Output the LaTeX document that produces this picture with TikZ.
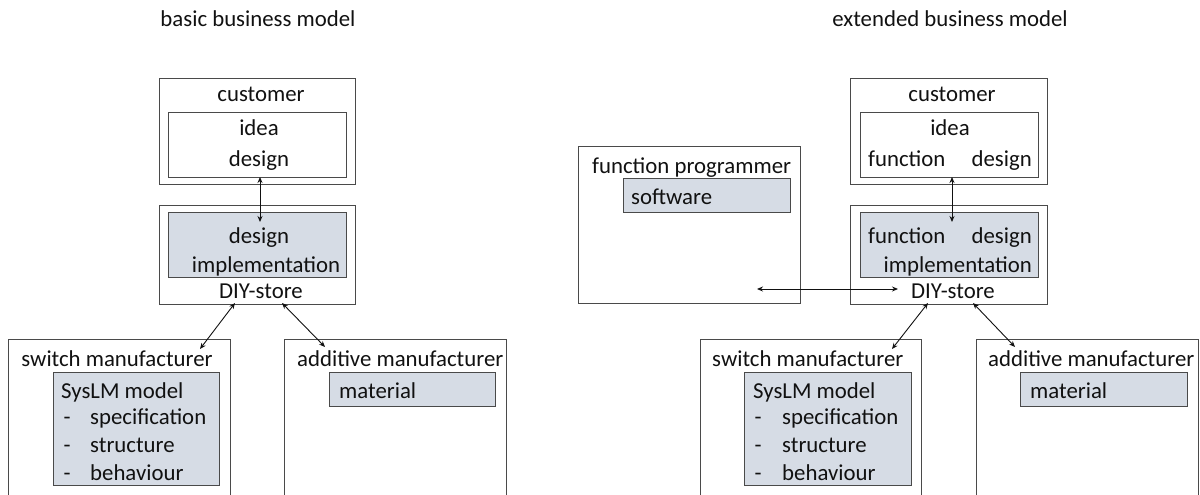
\documentclass[tikz,border=0pt]{standalone}
\usepackage{fontspec}
\setmainfont{Carlito}
\usetikzlibrary{arrows.meta}
\definecolor{ink}{HTML}{111111}
\definecolor{boxline}{HTML}{4A4A4A}
\definecolor{greyfill}{HTML}{D6DCE5}
\tikzset{
  every node/.style={font=\fontsize{22.8}{28}\selectfont, text=ink},
  box/.style={draw=boxline, line width=1.4pt, inner sep=0pt, anchor=north west},
  greybox/.style={box, fill=greyfill},
  txt/.style={anchor=base, inner sep=0pt},
  txtl/.style={anchor=base west, inner sep=0pt},
  txtr/.style={anchor=base east, inner sep=0pt},
  link/.style={{Stealth[length=6pt,width=5pt]}-{Stealth[length=6pt,width=5pt]}, line width=0.9pt, draw=ink}
}
\begin{document}
\begin{tikzpicture}[x=1pt,y=-1pt]
\useasboundingbox (0,0) rectangle (1200,495);

% ---------------- basic business model ----------------
\node[txt] (t1) at (258,27) {basic business model};

\node[box, minimum width=196pt, minimum height=106pt] (cust) at (159,78) {};
\node[box, minimum width=178pt, minimum height=65pt] (custin) at (168,112) {};
\node[txt] (custlbl) at (261,102) {customer};
\node[txt] (idea) at (259,135) {idea};
\node[txt] (cdesign) at (259,166) {design};

\node[box, minimum width=196pt, minimum height=99pt] (diy) at (159,205) {};
\node[greybox, minimum width=178pt, minimum height=65pt] (diyin) at (168,212) {};
\node[txt] (ddesign) at (259,243) {design};
\node[txt] (dimpl) at (266,272) {implementation};
\node[txt] (diylbl) at (261,298) {DIY-store};

\node[box, minimum width=222pt, minimum height=170pt] (sw) at (8,339) {};
\node[greybox, minimum width=166pt, minimum height=113pt] (swin) at (53,372) {};
\node[txt] (swlbl) at (117,366) {switch manufacturer};
\node[txtl] (sys) at (61,398) {SysLM model};
\node[txt] (da) at (67,424) {-};
\node[txtl] (spec) at (90,424) {specification};
\node[txt] (db) at (67,452) {-};
\node[txtl] (struc) at (90,452) {structure};
\node[txt] (dc) at (67,480) {-};
\node[txtl] (behav) at (90,480) {behaviour};

\node[box, minimum width=222pt, minimum height=170pt] (add) at (284,339) {};
\node[greybox, minimum width=166pt, minimum height=34pt] (addin) at (329,372) {};
\node[txtl] (addlbl) at (297,366) {additive manufacturer};
\node[txtl] (mat) at (339,398) {material};

\coordinate (a1top) at (260,177);
\coordinate (a1bot) at (260,222);
\coordinate (a2top) at (235,303);
\coordinate (a2bot) at (200,349);
\coordinate (a3top) at (282,303);
\coordinate (a3bot) at (325,347);
\draw[link] (a1top) -- (a1bot);
\draw[link] (a2top) -- (a2bot);
\draw[link] (a3top) -- (a3bot);

% ---------------- extended business model ----------------
\node[txt] (t2) at (950,27) {extended business model};

\node[box, minimum width=197pt, minimum height=106pt] (cust2) at (850,78) {};
\node[box, minimum width=178pt, minimum height=65pt] (custin2) at (860,112) {};
\node[txt] (custlbl2) at (952,102) {customer};
\node[txt] (idea2) at (950,135) {idea};
\node[txtl] (cfun2) at (868,166) {function};
\node[txtr] (cdesign2) at (1032,166) {design};

\node[box, minimum width=197pt, minimum height=99pt] (diy2) at (850,205) {};
\node[greybox, minimum width=178pt, minimum height=65pt] (diyin2) at (860,212) {};
\node[txtl] (dfun2) at (868,243) {function};
\node[txtr] (ddesign2) at (1032,243) {design};
\node[txtr] (dimpl2) at (1032,272) {implementation};
\node[txt] (diylbl2) at (953,298) {DIY-store};

\node[box, minimum width=222pt, minimum height=157pt] (fp) at (578,146) {};
\node[greybox, minimum width=167pt, minimum height=34pt] (fpin) at (623,178) {};
\node[txtl] (fplbl) at (592,173) {function programmer};
\node[txtl] (soft) at (631,204) {software};

\node[box, minimum width=221pt, minimum height=170pt] (sw2) at (700,339) {};
\node[greybox, minimum width=167pt, minimum height=113pt] (swin2) at (744,372) {};
\node[txtl] (swlbl2) at (712,366) {switch manufacturer};
\node[txtl] (sys2) at (753,398) {SysLM model};
\node[txt] (da2) at (758,424) {-};
\node[txtl] (spec2) at (782,424) {specification};
\node[txt] (db2) at (758,452) {-};
\node[txtl] (struc2) at (782,452) {structure};
\node[txt] (dc2) at (758,480) {-};
\node[txtl] (behav2) at (782,480) {behaviour};

\node[box, minimum width=222pt, minimum height=170pt] (add2) at (976,339) {};
\node[greybox, minimum width=167pt, minimum height=34pt] (addin2) at (1020,372) {};
\node[txtl] (addlbl2) at (988,366) {additive manufacturer};
\node[txtl] (mat2) at (1030,398) {material};

\coordinate (b1top) at (952,177);
\coordinate (b1bot) at (952,222);
\coordinate (b2left) at (757,289);
\coordinate (b2right) at (898,289);
\coordinate (b3top) at (928,303);
\coordinate (b3bot) at (892,349);
\coordinate (b4top) at (973,303);
\coordinate (b4bot) at (1015,347);
\draw[link] (b1top) -- (b1bot);
\draw[link] (b2left) -- (b2right);
\draw[link] (b3top) -- (b3bot);
\draw[link] (b4top) -- (b4bot);
\end{tikzpicture}
\end{document}
